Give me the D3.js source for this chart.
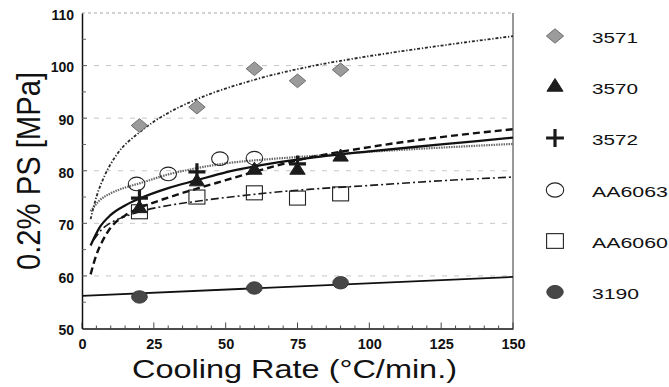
<!DOCTYPE html>
<html>
<head>
<meta charset="utf-8">
<script src="https://cdn.jsdelivr.net/npm/d3@7"></script>
<style>
  html, body { margin: 0; padding: 0; background: #fff; }
  svg { display: block; }
  text { font-family: "Liberation Sans", Arial, Helvetica, sans-serif; fill: #111; }
</style>
</head>
<body>
<svg id="chart" width="669" height="387"></svg>
<script>
// ---------------- data ----------------
const seriesNames = ["3571", "3570", "3572", "AA6063", "AA6060", "3190"];

// measured points
const x3571 = [20, 40, 60, 75, 90];
const y3571 = [88.6, 92.1, 99.4, 97.1, 99.2];
const x3570 = [20, 40, 60, 75, 90];
const y3570 = [72.8, 77.9, 80.1, 80.1, 82.6];
const x3572 = [20, 40, 75];
const y3572 = [74.8, 79.8, 81.3];
const x6063 = [19, 30, 48, 60];
const y6063 = [77.5, 79.4, 82.3, 82.4];
const x6060 = [20, 40, 60, 75, 90];
const y6060 = [72.2, 75.0, 75.8, 74.8, 75.6];
const x3190 = [20, 60, 90];
const y3190 = [56.0, 57.7, 58.7];

// fitted trend curves
const fitX3571 = [3, 5, 8, 12, 20, 30, 40, 60, 80, 100, 125, 150];
const fitY3571 = [70.8, 75.0, 79.2, 83.0, 87.3, 91.0, 93.6, 97.3, 99.9, 101.8, 103.8, 105.6];
const fitX3570 = [3, 5, 7, 10, 15, 20, 30, 40, 50, 60, 75, 100, 125, 150];
const fitY3570 = [60.3, 64.0, 66.5, 69.2, 71.5, 72.9, 74.9, 76.6, 78.2, 79.8, 82.0, 84.5, 86.4, 87.9];
const fitX3572 = [3, 6, 10, 15, 20, 30, 40, 50, 65, 80, 100, 125, 150];
const fitY3572 = [65.8, 69.1, 71.6, 73.4, 74.7, 76.7, 78.2, 79.7, 81.3, 82.5, 83.7, 85.0, 86.3];
const fitX6063 = [3, 6, 10, 15, 20, 30, 40, 50, 65, 80, 100, 125, 150];
const fitY6063 = [72.3, 74.3, 75.7, 76.8, 77.6, 79.3, 80.5, 81.4, 82.2, 82.8, 83.6, 84.4, 85.1];
const fitX6060 = [4, 7, 10, 15, 20, 30, 40, 50, 65, 80, 100, 125, 150];
const fitY6060 = [66.8, 68.9, 70.1, 71.3, 72.2, 73.4, 74.2, 74.9, 75.8, 76.5, 77.2, 78.1, 78.8];
const fitX3190 = [0, 150];
const fitY3190 = [56.2, 59.8];

const xTicks = [0, 25, 50, 75, 100, 125, 150];
const yTicks = [50, 60, 70, 80, 90, 100, 110];
const xTitle = "Cooling Rate (°C/min.)";
const yTitle = "0.2% PS [MPa]";

// ---------------- chart ----------------
const svg = d3.select("#chart");
const x = d3.scaleLinear().domain([0, 150]).range([82, 513]);
const y = d3.scaleLinear().domain([50, 110]).range([328.5, 13]);
const zip = (xs, ys) => xs.map((v, i) => [v, ys[i]]);

svg.append("rect").attr("width", 669).attr("height", 387).attr("fill", "#fff");

// gridlines (10s)
svg.append("g").selectAll("line").data(yTicks.filter(d => d > 50 && d < 110)).join("line")
  .attr("x1", x(0)).attr("x2", x(150))
  .attr("y1", d => y(d)).attr("y2", d => y(d))
  .attr("stroke", "#b8b8b8").attr("stroke-width", 0.8).attr("stroke-dasharray", "5,7");

// top border (dotted light)
svg.append("line").attr("x1", x(0)).attr("x2", x(150)).attr("y1", y(110)).attr("y2", y(110))
  .attr("stroke", "#9a9a9a").attr("stroke-width", 0.9).attr("stroke-dasharray", "3,3");
// right border
svg.append("line").attr("x1", x(150)).attr("x2", x(150)).attr("y1", y(110)).attr("y2", y(50))
  .attr("stroke", "#333").attr("stroke-width", 1);

// x axis: ticks inward (up)
const xAxis = d3.axisBottom(x).tickValues(xTicks).tickSize(0).tickPadding(10).tickFormat(d3.format("d"));
const gx = svg.append("g").attr("transform", `translate(0,${y(50)})`).call(xAxis);
gx.select(".domain").attr("stroke", "#111").attr("stroke-width", 1.4);
gx.selectAll("text").attr("font-size", 14.5).attr("font-weight", "bold").attr("fill", "#111")
  .attr("font-family", "Liberation Sans, Arial, sans-serif");
const minorX = d3.range(0, 151, 5);
svg.append("g").selectAll("line").data(minorX).join("line")
  .attr("x1", d => x(d)).attr("x2", d => x(d))
  .attr("y1", y(50)).attr("y2", d => y(50) - (d % 25 === 0 ? 6 : 3))
  .attr("stroke", "#333").attr("stroke-width", 0.9);

// y axis
const yAxis = d3.axisLeft(y).tickValues(yTicks).tickSize(0).tickPadding(8).tickFormat(d3.format("d"));
const gy = svg.append("g").attr("transform", `translate(${x(0)},0)`).call(yAxis);
gy.select(".domain").attr("stroke", "#111").attr("stroke-width", 1.5);
gy.selectAll("text").attr("font-size", 14).attr("font-weight", "bold").attr("fill", "#111")
  .attr("dy", "0.45em").attr("font-family", "Liberation Sans, Arial, sans-serif");
const minorY = d3.range(55, 110, 5);
svg.append("g").selectAll("line").data(minorY).join("line")
  .attr("x1", x(0)).attr("x2", d => x(0) + (d % 10 === 0 ? 5 : 4))
  .attr("y1", d => y(d)).attr("y2", d => y(d))
  .attr("stroke", "#555").attr("stroke-width", 0.9);

// fit curves
const line = d3.line().x(d => x(d[0])).y(d => y(d[1])).curve(d3.curveMonotoneX);
const fits = [
  { pts: zip(fitX6063, fitY6063), stroke: "#6a6a6a", w: 2.2, dash: "1.5,1" },
  { pts: zip(fitX3571, fitY3571), stroke: "#2a2a2a", w: 1.8, dash: "3,1.8,1.3,1.8" },
  { pts: zip(fitX6060, fitY6060), stroke: "#1a1a1a", w: 1.6, dash: "8,3,2,3" },
  { pts: zip(fitX3570, fitY3570), stroke: "#111", w: 2.4, dash: "7,4" },
  { pts: zip(fitX3572, fitY3572), stroke: "#111", w: 2.3, dash: null },
  { pts: zip(fitX3190, fitY3190), stroke: "#111", w: 1.8, dash: null }
];
svg.append("g").selectAll("path").data(fits).join("path")
  .attr("d", d => line(d.pts)).attr("fill", "none")
  .attr("stroke", d => d.stroke).attr("stroke-width", d => d.w)
  .attr("stroke-dasharray", d => d.dash);

// marker styles
const markerStyle = {
  "3571":   { type: d3.symbolDiamond2, area: 120, sx: 1.2, sy: 1.0, fill: "#9b9b9b", stroke: "#666", sw: 1 },
  "3570":   { type: d3.symbolTriangle2, area: 140, sx: 1.1, sy: 1.0, fill: "#1c1c1c", stroke: "#1c1c1c", sw: 1 },
  "3572":   { type: "plus", fill: "none", stroke: "#1a1a1a", sw: 3.2 },
  "AA6063": { type: "ellipse", rx: 8.3, ry: 6.8, fill: "none", stroke: "#222", sw: 1.1 },
  "AA6060": { type: "rect", w: 16, h: 14, fill: "none", stroke: "#222", sw: 1.1 },
  "3190":   { type: "ellipse", rx: 7.8, ry: 6.2, fill: "#474747", stroke: "#3a3a3a", sw: 1 }
};
function drawMarker(g, name, cx, cy, scale) {
  const s = markerStyle[name];
  const k = scale || 1;
  if (s.type === "plus") {
    const h = 8.5 * k;
    g.append("path").attr("d", `M${cx - h},${cy}H${cx + h}M${cx},${cy - h}V${cy + h}`)
      .attr("stroke", s.stroke).attr("stroke-width", s.sw).attr("fill", "none");
  } else if (s.type === "ellipse") {
    g.append("ellipse").attr("cx", cx).attr("cy", cy).attr("rx", s.rx * k).attr("ry", s.ry * k)
      .attr("fill", s.fill).attr("stroke", s.stroke).attr("stroke-width", s.sw);
  } else if (s.type === "rect") {
    g.append("rect").attr("x", cx - s.w * k / 2).attr("y", cy - s.h * k / 2)
      .attr("width", s.w * k).attr("height", s.h * k)
      .attr("fill", s.fill).attr("stroke", s.stroke).attr("stroke-width", s.sw);
  } else {
    g.append("path").attr("d", d3.symbol().type(s.type).size(s.area)())
      .attr("transform", `translate(${cx},${cy}) scale(${s.sx * k},${s.sy * k})`)
      .attr("fill", s.fill).attr("stroke", s.stroke).attr("stroke-width", s.sw / (s.sx * k));
  }
}

const pointSets = [
  { name: "AA6060", xs: x6060, ys: y6060 },
  { name: "AA6063", xs: x6063, ys: y6063 },
  { name: "3190", xs: x3190, ys: y3190 },
  { name: "3570", xs: x3570, ys: y3570 },
  { name: "3572", xs: x3572, ys: y3572 },
  { name: "3571", xs: x3571, ys: y3571 }
];
const gm = svg.append("g");
pointSets.forEach(ps => ps.xs.forEach((v, i) => drawMarker(gm, ps.name, x(v), y(ps.ys[i]), 1)));

// legend
const legendY = [37, 88, 139, 191, 242, 293];
const legendW = { "3571": 46, "3570": 46, "3572": 46, "AA6063": 76, "AA6060": 76, "3190": 47 };
const gl = svg.append("g");
seriesNames.forEach((n, i) => {
  const ly = legendY[i];
  drawMarker(gl, n, 555, ly - 1, 1.05);
  gl.append("text").attr("x", 592).attr("y", ly).attr("dy", "0.36em")
    .attr("font-size", 15.5).attr("textLength", legendW[n]).attr("lengthAdjust", "spacingAndGlyphs")
    .text(n);
});

// axis titles
svg.append("text").attr("x", 132).attr("y", 378).attr("font-size", 25)
  .attr("textLength", 325).attr("lengthAdjust", "spacingAndGlyphs").text(xTitle);
svg.append("text").attr("transform", "translate(40,270) rotate(-90) scale(1,1.2)")
  .attr("x", 0).attr("y", 0).attr("font-size", 28)
  .attr("textLength", 198).attr("lengthAdjust", "spacingAndGlyphs").text(yTitle);
</script>
</body>
</html>
